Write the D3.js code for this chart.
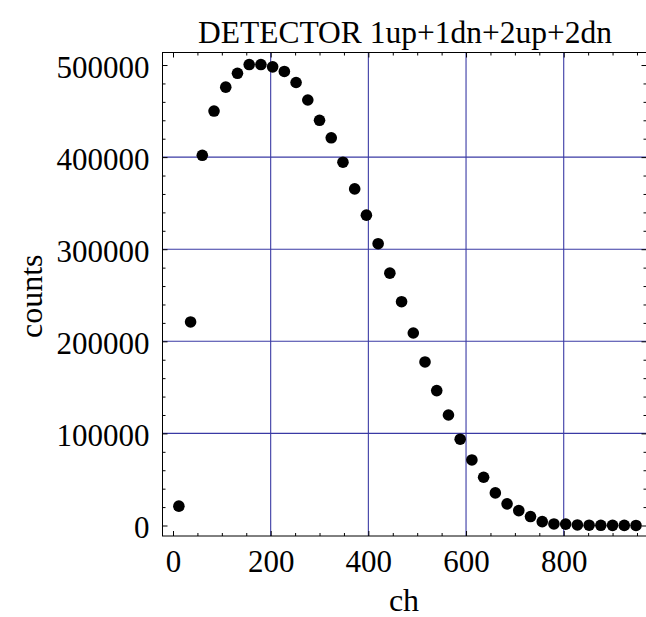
<!DOCTYPE html>
<html>
<head>
<meta charset="utf-8">
<script src="https://cdn.jsdelivr.net/npm/d3@7"></script>
<style>
  html, body { margin: 0; padding: 0; background: #fff; }
  svg { display: block; }
  text { font-family: "Liberation Serif", "Times New Roman", serif; fill: #000; }
</style>
</head>
<body>
<svg id="chart" width="646" height="617"></svg>
<script>
// ---- data ----
const channels = [12, 36, 60, 84, 108, 132, 156, 180, 204, 228, 252, 276, 300, 324, 348, 372, 396, 420, 444, 468,
                  492, 516, 540, 564, 588, 612, 636, 660, 684, 708, 732, 756, 780, 804, 828, 852, 876, 900, 924, 948];
const counts = [21000, 221000, 402000, 450000, 476000, 491000, 500500, 500500, 498000, 493000,
                481000, 462000, 440000, 421000, 394500, 365500, 337000, 306000, 274000, 243000,
                209000, 177600, 146500, 120000, 93700, 71200, 52400, 35400, 23500, 16200,
                9700, 4200, 1700, 1500, 600, 300, 200, 150, 100, 80];
const xMajorTicks = [0, 200, 400, 600, 800];
const xMinorTicks = [50, 100, 150, 250, 300, 350, 450, 500, 550, 650, 700, 750, 850, 900, 950];
const yMajorTicks = [0, 100000, 200000, 300000, 400000, 500000];
const yMinorTicks = [20000, 40000, 60000, 80000, 120000, 140000, 160000, 180000, 220000, 240000, 260000, 280000,
                     320000, 340000, 360000, 380000, 420000, 440000, 460000, 480000];
const xGrid = [200, 400, 600, 800];
const yGrid = [100000, 200000, 300000, 400000];
const titleText = "DETECTOR 1up+1dn+2up+2dn";
const xLabel = "ch";
const yLabel = "counts";

// ---- layout ----
const L = 162.5, R = 646.5, T = 52.5, B = 536;
const svg = d3.select("#chart");
const x = d3.scaleLinear().domain([-21.5, 969.5]).range([L, R]);
const y = d3.scaleLinear().domain([-11400, 513600]).range([B, T]);
const gridColor = "#3a3aa4";

// grid
const g = svg.append("g");
g.selectAll("line.vg").data(xGrid).join("line")
  .attr("x1", d => x(d)).attr("x2", d => x(d)).attr("y1", T).attr("y2", B)
  .attr("stroke", gridColor).attr("stroke-width", 1.1);
g.selectAll("line.hg").data(yGrid).join("line")
  .attr("y1", d => y(d)).attr("y2", d => y(d)).attr("x1", L).attr("x2", R)
  .attr("stroke", gridColor).attr("stroke-width", 1.1);

// axes (ticks inward)
function styleAxis(sel) {
  sel.select(".domain").remove();
  sel.selectAll(".tick line").attr("stroke", "#000").attr("stroke-width", 1);
  sel.selectAll("text").style("font-size", "31px").style("font-family", '"Liberation Serif", serif').attr("fill", "#000");
}
const fmt = d3.format("d");
svg.append("g").attr("transform", `translate(0,${B})`)
  .call(d3.axisBottom(x).tickValues(xMajorTicks).tickSize(-5).tickPadding(14).tickFormat(fmt))
  .call(styleAxis);
svg.append("g").attr("transform", `translate(0,${B})`)
  .call(d3.axisBottom(x).tickValues(xMinorTicks).tickSize(-3).tickFormat(""))
  .call(styleAxis);
svg.append("g").attr("transform", `translate(0,${T})`)
  .call(d3.axisTop(x).tickValues(xMajorTicks).tickSize(-5).tickFormat(""))
  .call(styleAxis);
svg.append("g").attr("transform", `translate(0,${T})`)
  .call(d3.axisTop(x).tickValues(xMinorTicks).tickSize(-3).tickFormat(""))
  .call(styleAxis);
const yAx = svg.append("g").attr("transform", `translate(${L},0)`)
  .call(d3.axisLeft(y).tickValues(yMajorTicks).tickSize(-5).tickPadding(13).tickFormat(fmt))
  .call(styleAxis);
yAx.selectAll("text").attr("dy", "0.4em");
svg.append("g").attr("transform", `translate(${L},0)`)
  .call(d3.axisLeft(y).tickValues(yMinorTicks).tickSize(-3).tickFormat(""))
  .call(styleAxis);
svg.append("g").attr("transform", `translate(${R},0)`)
  .call(d3.axisRight(y).tickValues(yMajorTicks).tickSize(-5).tickFormat(""))
  .call(styleAxis);
svg.append("g").attr("transform", `translate(${R},0)`)
  .call(d3.axisRight(y).tickValues(yMinorTicks).tickSize(-3).tickFormat(""))
  .call(styleAxis);

// frame
svg.append("rect").attr("x", L).attr("y", T).attr("width", R - L).attr("height", B - T)
  .attr("fill", "none").attr("stroke", "#000").attr("stroke-width", 1);

// points
svg.append("g").selectAll("circle").data(channels.map((c, i) => [c, counts[i]])).join("circle")
  .attr("cx", d => x(d[0])).attr("cy", d => y(d[1])).attr("r", 5.8).attr("fill", "#000");

// labels
svg.append("text").attr("x", 405).attr("y", 43).attr("text-anchor", "middle")
  .style("font-size", "31.5px").text(titleText);
svg.append("text").attr("x", 404).attr("y", 611).attr("text-anchor", "middle")
  .style("font-size", "32px").text(xLabel);
svg.append("text").attr("transform", `translate(42,${(T + B) / 2 + 2}) rotate(-90)`).attr("text-anchor", "middle")
  .style("font-size", "32px").text(yLabel);
</script>
</body>
</html>
